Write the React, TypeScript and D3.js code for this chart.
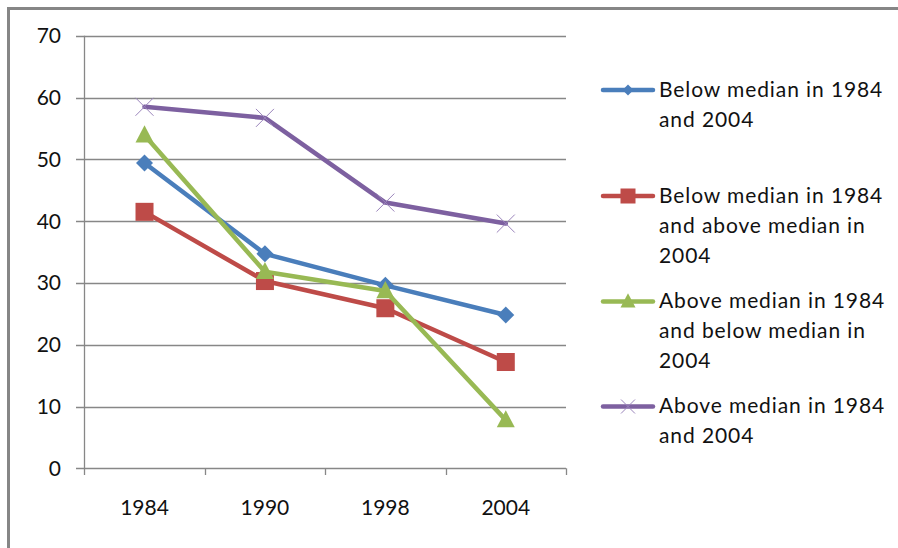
import * as d3 from "d3"
import { useEffect, useRef } from "react"

const years = ["1984", "1990", "1998", "2004"]
const yTicks = [0, 10, 20, 30, 40, 50, 60, 70]

const belowBoth = [49.4, 34.7, 29.6, 24.8]
const belowThenAbove = [41.5, 30.3, 25.9, 17.2]
const aboveThenBelow = [53.9, 31.8, 28.7, 7.8]
const aboveBoth = [58.5, 56.7, 43.0, 39.6]

const seriesNames = [
  ["Below median in 1984", "and 2004"],
  ["Below median in 1984", "and above median in", "2004"],
  ["Above median in 1984", "and below median in", "2004"],
  ["Above median in 1984", "and 2004"],
]
const seriesColors = ["#4a7ebb", "#be4b48", "#98b954", "#7d60a0"]
const seriesMarkers = ["diamond", "square", "triangle", "x"]

const W = 898
const H = 548
const FONT = "Lato, 'Open Sans', sans-serif"

const drawMarker = (
  g: d3.Selection<SVGGElement, unknown, null, undefined>,
  kind: string,
  color: string,
  s: number,
) => {
  if (kind === "diamond") {
    g.append("path")
      .attr("d", `M0,${-s}L${s},0L0,${s}L${-s},0Z`)
      .attr("fill", color)
  } else if (kind === "square") {
    g.append("rect")
      .attr("x", -s)
      .attr("y", -s)
      .attr("width", 2 * s)
      .attr("height", 2 * s)
      .attr("fill", color)
  } else if (kind === "triangle") {
    g.append("path")
      .attr("d", `M0,${-s * 1.1}L${s},${s * 0.8}L${-s},${s * 0.8}Z`)
      .attr("fill", color)
  } else {
    g.append("path")
      .attr("d", `M${-s},${-s}L${s},${s}M${-s},${s}L${s},${-s}`)
      .attr("stroke", "#9a84bb")
      .attr("stroke-width", 1)
      .attr("fill", "none")
  }
}

const App = () => {
  const svgRef = useRef<SVGSVGElement>(null)

  useEffect(() => {
    if (!svgRef.current) return
    const svg = d3.select(svgRef.current)
    svg.selectAll("*").remove()

    const data = [belowBoth, belowThenAbove, aboveThenBelow, aboveBoth]

    const x = d3.scaleBand<string>().domain(years).range([84.3, 566])
    const y = d3.scaleLinear().domain([0, 70]).range([468.3, 35.7])
    const cx = (d: string) => (x(d) ?? 0) + x.bandwidth() / 2

    // outer frame (only top and left visible)
    svg
      .append("path")
      .attr("d", `M8.5,${H}V8.5H${W}`)
      .attr("fill", "none")
      .attr("stroke", "#868686")
      .attr("stroke-width", 3)

    // gridlines + y ticks
    svg
      .append("g")
      .selectAll("line")
      .data(yTicks)
      .join("line")
      .attr("x1", 76)
      .attr("x2", 566)
      .attr("y1", (d) => Math.round(y(d)) + 0.5)
      .attr("y2", (d) => Math.round(y(d)) + 0.5)
      .attr("stroke", "#878787")
      .attr("stroke-width", 1.3)

    svg
      .append("g")
      .selectAll("text")
      .data(yTicks)
      .join("text")
      .attr("x", 61)
      .attr("y", (d) => y(d))
      .attr("dy", "0.36em")
      .attr("text-anchor", "end")
      .attr("font-family", FONT)
      .attr("font-size", 21)
      .attr("fill", "#111")
      .text((d) => d)

    // y axis line
    svg
      .append("line")
      .attr("x1", 84.5)
      .attr("x2", 84.5)
      .attr("y1", y(70))
      .attr("y2", 475)
      .attr("stroke", "#878787")
      .attr("stroke-width", 1.3)

    // category tick marks
    const bounds = [...years.map((d) => x(d) ?? 0), 566].slice(1)
    svg
      .append("g")
      .selectAll("line")
      .data(bounds)
      .join("line")
      .attr("x1", (d) => Math.round(d) + 0.5)
      .attr("x2", (d) => Math.round(d) + 0.5)
      .attr("y1", y(0))
      .attr("y2", 475)
      .attr("stroke", "#878787")
      .attr("stroke-width", 1.3)

    svg
      .append("g")
      .selectAll("text")
      .data(years)
      .join("text")
      .attr("x", (d) => cx(d))
      .attr("y", 515)
      .attr("text-anchor", "middle")
      .attr("font-family", FONT)
      .attr("font-size", 21)
      .attr("fill", "#111")
      .text((d) => d)

    // series
    const line = d3
      .line<number>()
      .x((_, i) => cx(years[i]))
      .y((d) => y(d))

    const markerSize = [8.5, 9, 9, 9]
    data.forEach((values, si) => {
      const g = svg.append("g")
      g.append("path")
        .datum(values)
        .attr("d", line)
        .attr("fill", "none")
        .attr("stroke", seriesColors[si])
        .attr("stroke-width", 4.5)
        .attr("stroke-linejoin", "round")
        .attr("stroke-linecap", "round")
      values.forEach((v, i) => {
        const m = g
          .append("g")
          .attr("transform", `translate(${cx(years[i])},${y(v)})`)
        drawMarker(m, seriesMarkers[si], seriesColors[si], markerSize[si])
      })
    })

    // legend
    const legendTop = [96.5, 202.5, 308, 413]
    const legendMarker = [5.5, 7.5, 7.5, 7]
    seriesNames.forEach((lines, si) => {
      const g = svg.append("g")
      const ly = legendTop[si] - 6.5
      g.append("line")
        .attr("x1", 603)
        .attr("x2", 653)
        .attr("y1", ly)
        .attr("y2", ly)
        .attr("stroke", seriesColors[si])
        .attr("stroke-width", 4.5)
        .attr("stroke-linecap", "round")
      const m = g.append("g").attr("transform", `translate(628,${ly})`)
      drawMarker(m, seriesMarkers[si], seriesColors[si], legendMarker[si])
      g.selectAll("text")
        .data(lines)
        .join("text")
        .attr("x", 659)
        .attr("y", (_, i) => legendTop[si] + i * 30)
        .attr("font-family", FONT)
        .attr("font-size", 21)
        .attr("letter-spacing", "0.9px")
        .attr("fill", "#111")
        .text((d) => d)
    })
  }, [])

  return (
    <svg
      ref={svgRef}
      width={W}
      height={H}
      style={{
        position: "absolute",
        left: 0,
        top: 0,
        display: "block",
        background: "#fff",
      }}
    />
  )
}

export default App
